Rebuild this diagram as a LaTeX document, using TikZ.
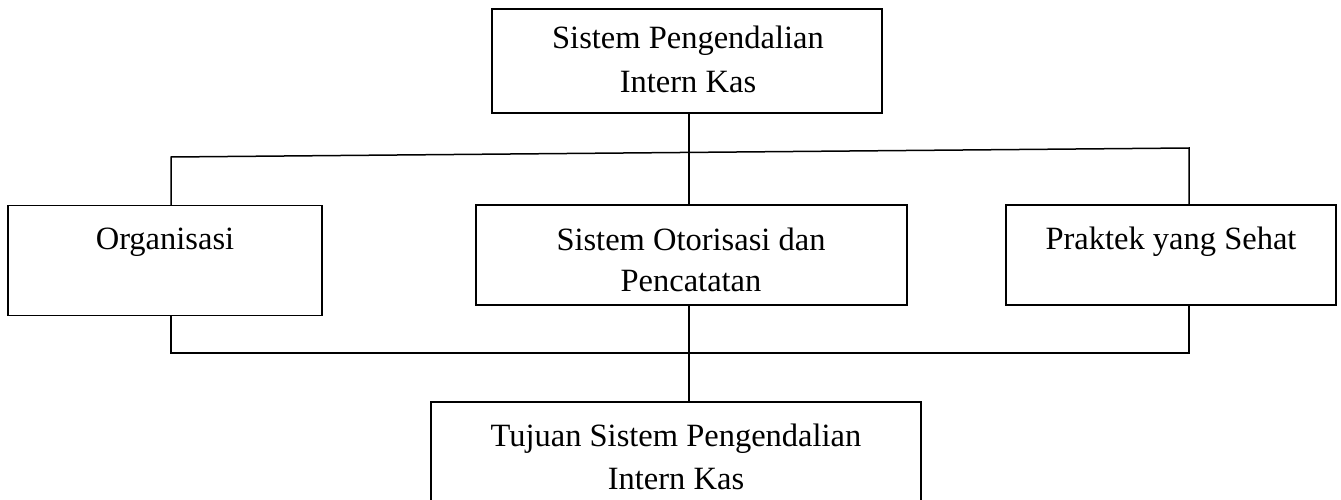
\documentclass[tikz,border=0pt]{standalone}
\usepackage{fontspec}
\setmainfont{Liberation Serif}
\begin{document}
\begin{tikzpicture}[x=1pt,y=-1pt,
  box/.style={draw=black,line width=1.5pt,inner sep=0pt},
  conn/.style={draw=black,line width=1.5pt},
  txt/.style={inner sep=0pt,anchor=base,font=\fontsize{32.5}{44}\selectfont}]
\useasboundingbox (0,0) rectangle (1341,500);
% boxes (centre, size)
\node[box,minimum width=390pt,minimum height=104pt] (top) at (687,61) {};
\node[box,minimum width=314pt,minimum height=110pt] (org) at (165,260.5) {};
\node[box,minimum width=431pt,minimum height=100pt] (mid) at (691.5,255) {};
\node[box,minimum width=330pt,minimum height=100pt] (prak) at (1171,255) {};
\node[box,minimum width=490pt,minimum height=120pt] (goal) at (676,462) {};
% texts
\node[txt] (topA) at (688,49) {Sistem Pengendalian};
\node[txt] (topB) at (688,93) {Intern Kas};
\node[txt] (orgT) at (165,249) {Organisasi};
\node[txt] (midA) at (691,250) {Sistem Otorisasi dan};
\node[txt] (midB) at (691,291) {Pencatatan};
\node[txt] (prakT) at (1171,249) {Praktek yang Sehat};
\node[txt] (goalA) at (676,446) {Tujuan Sistem Pengendalian};
\node[txt] (goalB) at (676,489) {Intern Kas};
% junctions
\coordinate (cx) at (689,0);
\coordinate (tL) at (171,157);
\coordinate (tR) at (1189,148);
\coordinate (bL) at (171,353);
\coordinate (bR) at (1189,353);
% connectors
\draw[conn] (cx |- top.south) -- (cx |- mid.north);
\draw[conn] (tL |- org.north) -- (tL) -- (tR) -- (tR |- prak.north);
\draw[conn] (bL |- org.south) -- (bL) -- (bR) -- (bR |- prak.south);
\draw[conn] (cx |- mid.south) -- (cx |- goal.north);
\end{tikzpicture}
\end{document}
